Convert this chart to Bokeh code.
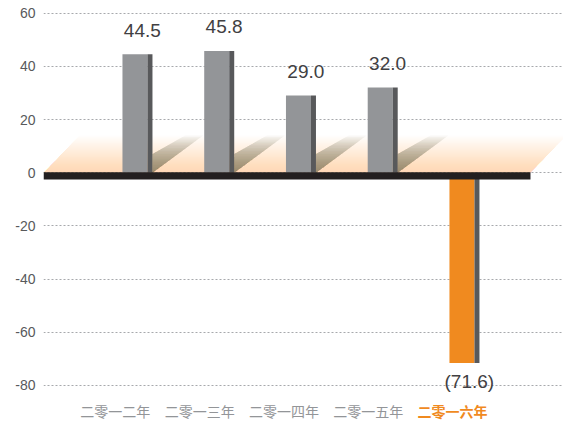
from bokeh.plotting import figure
from bokeh.models import Range1d, FixedTicker, ColumnDataSource
from bokeh.core.properties import value
from bokeh.embed import file_html
from bokeh.resources import INLINE

# ---- data ----
categories = ["二零一二年", "二零一三年", "二零一四年", "二零一五年", "二零一六年"]
values = [44.5, 45.8, 29.0, 32.0, -71.6]
y_ticks = [-80, -60, -40, -20, 0, 20, 40, 60]

# ---- styles ----
GRAY = "#939598"
SIDE = "#58595b"
ORANGE = "#f08a1f"
TEXT = "#414042"
FONT = "Liberation Sans"

idx = list(range(len(values)))
front_colors = [ORANGE if v < 0 else GRAY for v in values]

X0, X1 = -1.119, 5.242
p = figure(width=563, height=423, output_backend="svg", toolbar_location=None,
           x_range=Range1d(X0, X1), y_range=Range1d(-94.32, 64.76),
           x_axis_location=None, min_border_left=43, min_border_right=0,
           min_border_top=0, min_border_bottom=0)
p.outline_line_color = None
p.xgrid.visible = False
p.ygrid.ticker = FixedTicker(ticks=y_ticks)
p.ygrid.grid_line_color = "#a7a9ac"
p.ygrid.grid_line_dash = "2 2"
p.ygrid.grid_line_width = 1

ax = p.yaxis[0]
ax.ticker = FixedTicker(ticks=y_ticks)
ax.major_label_overrides = {t: str(t) for t in y_ticks}
ax.axis_line_color = None
ax.major_tick_line_color = None
ax.minor_tick_line_color = None
ax.major_tick_out = 0
ax.major_tick_in = 0
ax.major_label_standoff = 8
ax.major_label_text_font = FONT
ax.major_label_text_font_size = "14px"
ax.major_label_text_color = "#58595b"

# ---- floor (gradient parallelogram, nested layers -> smooth fade) ----
FLOOR_H = 14.0
FLOOR_SHIFT = 0.44
floor_left, floor_right = X0, 4.838
N = 40
a_floor = 1 - (1 - 0.45) ** (1.0 / N)
fxs, fys = [], []
for k in range(1, N + 1):
    yb = FLOOR_H * k / N
    sb = FLOOR_SHIFT * yb / FLOOR_H
    fxs.append([floor_left, floor_right, floor_right + sb, floor_left + sb])
    fys.append([0, 0, yb, yb])
p.patches(xs=fxs, ys=fys, fill_color="#f7b77a", fill_alpha=a_floor, line_color=None)

# ---- shadows behind positive bars ----
HALF = 0.153
SIDE_W = 0.061
M = 24
a_sh = 1 - (1 - 0.62) ** (1.0 / M)
sxs, sys_ = [], []
for i, v in zip(idx, values):
    if v <= 0:
        continue
    x0 = i + HALF + SIDE_W
    for k in range(1, M + 1):
        yb = 14.0 * k / M
        r = x0 + 0.62 * yb / 14.0
        if yb <= 7:
            sxs.append([x0, x0 + 0.62 * yb / 14.0, x0])
            sys_.append([0, yb, yb])
        else:
            l = x0 + 0.40 * (yb - 7) / 7.0
            sxs.append([x0, r, l, x0])
            sys_.append([0, yb, yb, 7])
p.patches(xs=sxs, ys=sys_, fill_color="#6f6252", fill_alpha=a_sh, line_color=None)

# ---- bars ----
src = ColumnDataSource(dict(x=idx, top=values, color=front_colors,
                            sl=[i + HALF for i in idx],
                            sr=[i + HALF + SIDE_W for i in idx]))
p.vbar(x="x", top="top", bottom=0, width=2 * HALF, fill_color="color",
       line_color=None, source=src)
p.quad(left="sl", right="sr", bottom=0, top="top", fill_color=SIDE,
       line_color=None, source=src)

# ---- base line ----
p.quad(left=[floor_left], right=[floor_right], bottom=[-2.56], top=[0.19],
       fill_color="#231f20", line_color=None)

# ---- value labels ----
lab_x = [i + 0.09 for i in idx]
lab_y = [v + 9.0 if v >= 0 else v - 6.9 for v in values]
lab_t = [f"{v:.1f}" if v >= 0 else f"({abs(v):.1f})" for v in values]
p.text(x=lab_x, y=lab_y, text=lab_t, text_align="center", text_baseline="middle",
       text_font=value(FONT), text_font_size="19px", text_color=TEXT)

# ---- category labels ----
cat_x = [i - 0.24 + 0.031 * i for i in idx]
cat_col = [ORANGE if v < 0 else GRAY for v in values]
cat_style = ["bold" if v < 0 else "normal" for v in values]
csrc = ColumnDataSource(dict(x=cat_x, y=[-89.8] * len(idx), t=categories,
                             c=cat_col, s=cat_style))
p.text(x="x", y="y", text="t", text_color="c", text_font_style="s",
       text_align="center", text_baseline="middle",
       text_font=value("Noto Sans CJK SC"), text_font_size="14px", source=csrc)

open("out.html", "w").write(file_html(p, INLINE))
